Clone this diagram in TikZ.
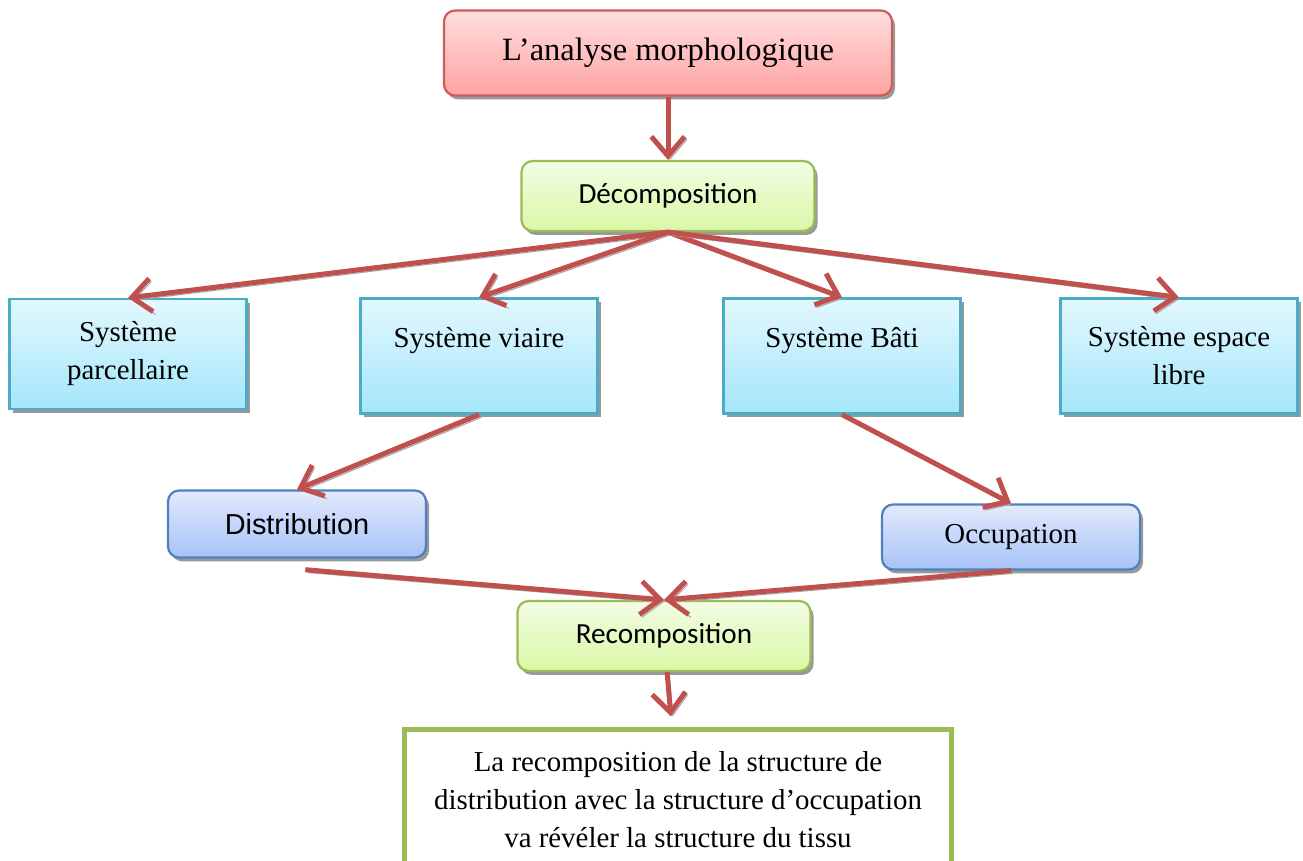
\documentclass[tikz,border=0pt]{standalone}
\usepackage{fontspec}
\setmainfont{Liberation Serif}
\newfontfamily\calibri{Carlito}
\newfontfamily\arial{Liberation Sans}
\usetikzlibrary{arrows.meta,shadows}
\newlength\unitpx
\setlength\unitpx{0.36pt}
\definecolor{arrowred}{HTML}{C0504D}
\definecolor{pinkline}{HTML}{CF5B5B}
\definecolor{pinktop}{HTML}{FFDEDE}
\definecolor{pinkbot}{HTML}{FFA3A3}
\definecolor{greenline}{HTML}{9BBB59}
\definecolor{greentop}{HTML}{F3FDE4}
\definecolor{greenbot}{HTML}{D9F7A6}
\definecolor{cyanline}{HTML}{4BACC6}
\definecolor{cyantop}{HTML}{E3F8FE}
\definecolor{cyanbot}{HTML}{A4E6FA}
\definecolor{blueline}{HTML}{4F81BD}
\definecolor{bluetop}{HTML}{E2EAFD}
\definecolor{bluebot}{HTML}{A7C2F7}

\begin{document}
\begin{tikzpicture}[x=\unitpx, y=-\unitpx,
  box/.style={draw, line width=0.8pt, align=center, font=\fontsize{10.4}{13.7}\selectfont,
    drop shadow={shadow xshift=1.1pt, shadow yshift=-1.4pt, fill=black!40, opacity=1}},
  pinkbox/.style={box, draw=pinkline, rounded corners=4pt, top color=pinktop, bottom color=pinkbot,
    font=\fontsize{11.7}{14}\selectfont, minimum width=448\unitpx, minimum height=85\unitpx},
  greenbox/.style={box, draw=greenline, rounded corners=4pt, top color=greentop, bottom color=greenbot,
    font=\calibri\fontsize{10.5}{13}\selectfont, minimum width=293\unitpx, minimum height=70\unitpx},
  cyanbox/.style={box, draw=cyanline, top color=cyantop, bottom color=cyanbot, minimum width=237\unitpx, minimum height=115\unitpx},
  bluebox/.style={box, draw=blueline, rounded corners=4pt, top color=bluetop, bottom color=bluebot, minimum width=258\unitpx, minimum height=67\unitpx},
  link/.style={arrowred, line width=1.8pt, -{Straight Barb[length=7pt,width=12pt]},
    preaction={draw=black!35, transform canvas={xshift=0.8pt,yshift=-1pt}}}]
\useasboundingbox (0,0) rectangle (1303,861);
\clip (0,0) rectangle (1303,861);

\node[pinkbox] (analyse) at (668,53) {L’analyse morphologique};
\node[greenbox] (decomp) at (668,196) {Décomposition};
\node[cyanbox, minimum height=110\unitpx] (parc) at (128,354) {Système\\parcellaire};
\node[cyanbox] (viaire) at (479,356) {Système viaire\\~};
\node[cyanbox] (bati) at (842,356) {Système Bâti\\~};
\node[cyanbox] (libre) at (1179,356) {Système espace\\libre};
\node[bluebox, font=\arial\fontsize{10.4}{13}\selectfont] (dist) at (297,524) {Distribution};
\node[bluebox, minimum height=65\unitpx] (occ) at (1011,537) {Occupation};
\node[greenbox] (recomp) at (664,636) {Recomposition};
\node[draw=greenline, line width=1.8pt, fill=white, align=center, font=\fontsize{10.4}{13.7}\selectfont,
  minimum width=547\unitpx, minimum height=140\unitpx] (tissu) at (678,800)
  {La recomposition de la structure de\\distribution avec la structure d’occupation\\va révéler la structure du tissu};

\draw[link] (analyse) -- (decomp);
\foreach \s in {parc,viaire,bati,libre}
  \draw[link] (decomp.south) -- (\s.north);
\draw[link] (viaire.south) -- (dist.north);
\draw[link] (bati.south) -- (occ.north);
\draw[link] ([xshift=3pt,yshift=-4pt]dist.south) -- (recomp.north);
\draw[link] (occ.south) -- (recomp.north);
\draw[link, shorten >=4pt] (recomp) -- (tissu);

\end{tikzpicture}
\end{document}
